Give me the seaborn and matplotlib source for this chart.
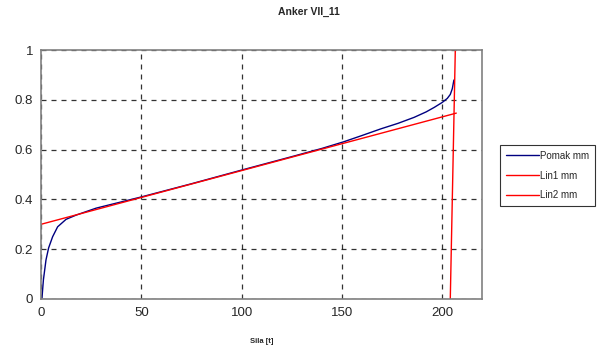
import pandas as pd
import matplotlib
matplotlib.use("Agg")
import matplotlib.pyplot as plt
import seaborn as sns

# values
pomak_sila = [0, 0.5, 1.2, 2.5, 3.8, 5.8, 8.3, 12.5, 17.5, 27.5, 50, 75, 100, 125, 140, 151, 160,
              169.5, 178, 186, 192, 196, 200, 202.5, 204, 205, 205.8]
pomak_mm = [0, 0.004, 0.076, 0.157, 0.205, 0.25, 0.29, 0.32, 0.337, 0.365, 0.41, 0.463, 0.518, 0.572,
            0.605, 0.632, 0.657, 0.684, 0.706, 0.73, 0.752, 0.77, 0.79, 0.806, 0.822, 0.845, 0.88]
lin1_sila = [0, 207]
lin1_mm = [0.3, 0.747]
lin2_sila = [204, 206.5]
lin2_mm = [0.0, 1.0]

series = ["Pomak mm", "Lin1 mm", "Lin2 mm"]
colors = {"Pomak mm": "#000080", "Lin1 mm": "#ff0000", "Lin2 mm": "#ff0000"}

df = pd.concat([
    pd.DataFrame({"Sila": pomak_sila, "mm": pomak_mm, "serie": series[0]}),
    pd.DataFrame({"Sila": lin1_sila, "mm": lin1_mm, "serie": series[1]}),
    pd.DataFrame({"Sila": lin2_sila, "mm": lin2_mm, "serie": series[2]}),
], ignore_index=True)

sns.set_theme(style="white")
plt.rcParams["font.family"] = ["Liberation Sans", "DejaVu Sans"]

fig = plt.figure(figsize=(6.08, 3.46), dpi=100)
ax = fig.add_axes([0.0674, 0.136, 0.726, 0.719])

sns.lineplot(data=df, x="Sila", y="mm", hue="serie", hue_order=series, palette=colors,
             estimator=None, sort=False, linewidth=1.0, legend=False, ax=ax)

ax.set_xlim(0, 220)
ax.set_ylim(0, 1)
ax.set_xticks([0, 50, 100, 150, 200])
ax.set_yticks([0, 0.2, 0.4, 0.6, 0.8, 1])
ax.set_yticklabels(["0", "0.2", "0.4", "0.6", "0.8", "1"])
ax.grid(True, color="black", linestyle=(0, (4, 4)), linewidth=0.9, alpha=0.8)
ax.set_axisbelow(True)
for s in ax.spines.values():
    s.set_color("#808080")
    s.set_linewidth(1.2)
ax.tick_params(direction="inout", length=5, width=1, color="#808080", labelsize=9.5, pad=3)
ax.set_xlabel("Sila [t]", fontsize=5.5, fontweight="bold", labelpad=14)
ax.set_ylabel("")
fig.text(0.508, 0.965, "Anker VII_11", fontsize=7.5, fontweight="bold", ha="center", va="center")

leg = fig.legend(ax.lines[:3], series, loc="upper left", bbox_to_anchor=(0.822, 0.581),
                 fontsize=7, frameon=True, fancybox=False, handlelength=3.4,
                 handletextpad=0.1, borderpad=0.6, labelspacing=1.0, borderaxespad=0)
leg.get_frame().set_edgecolor("black")
leg.get_frame().set_linewidth(0.8)

fig.savefig("out.png", dpi=100)
